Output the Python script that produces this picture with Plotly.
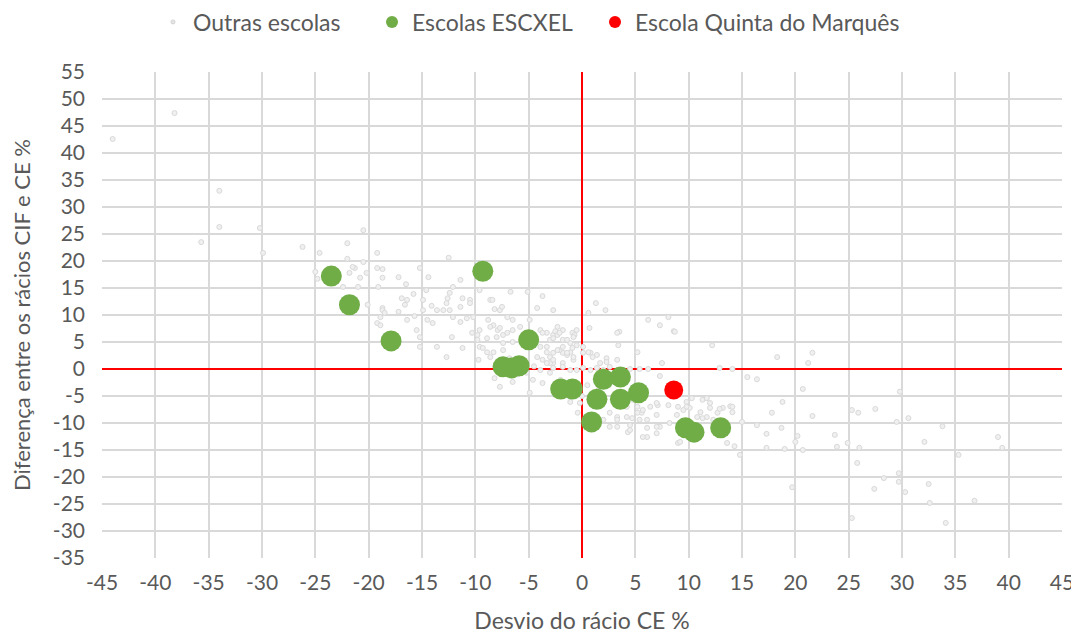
import plotly.graph_objects as go

# ---- data ----
escxel_x = [-23.5, -21.8, -17.9, -9.3, -5.0, -7.4, -6.6, -5.9, -2.0, -0.9,
            2.0, 3.6, 1.4, 3.6, 5.3, 0.9, 9.7, 10.5, 13.0]
escxel_y = [17.2, 11.9, 5.2, 18.1, 5.4, 0.4, 0.2, 0.6, -3.7, -3.7,
            -1.9, -1.5, -5.6, -5.6, -4.4, -9.8, -10.9, -11.7, -10.9]

quinta_x = [8.6]
quinta_y = [-3.9]

outras_pontos = [
    (-38.2, 47.4), (-44.0, 42.6), (-34.0, 33.0), (-34.0, 26.3), (-30.2, 26.1), (-35.7, 23.5),
    (-29.9, 21.5), (-26.2, 22.6), (-20.5, 25.7), (-22.0, 23.3), (-24.6, 21.5), (-19.2, 21.5),
    (-22.0, 20.4), (-20.5, 19.8), (-21.3, 18.7), (-19.2, 18.7), (-18.7, 18.5), (-20.2, 17.8),
    (-20.8, 16.9), (-18.7, 16.9), (-22.4, 15.2), (-21.0, 15.2), (-19.1, 15.2), (-20.1, 11.9),
    (-18.7, 11.3),
    (-25.0, 18.0), (-24.8, 16.7), (-21.5, 18.9), (-21.8, 17.8), (-17.2, 17.0), (-16.5, 15.7),
    (-12.5, 20.6), (-15.2, 18.7), (-14.4, 17.0), (-11.4, 16.5), (-12.1, 15.2), (-14.6, 14.6),
    (-16.9, 13.1), (-16.4, 12.8), (-15.8, 13.9), (-14.9, 12.8), (-12.6, 13.1), (-12.7, 12.2),
    (-11.2, 13.1), (-10.5, 12.8), (-12.4, 14.1), (-18.7, 10.9), (-18.5, 10.4), (-18.9, 9.6),
    (-17.2, 10.6), (-16.6, 11.9), (-19.2, 8.5), (-18.9, 8.1), (-16.4, 9.1), (-15.7, 9.8),
    (-14.9, 10.9), (-14.1, 11.7), (-13.6, 10.9), (-13.0, 10.9), (-12.4, 10.9), (-14.5, 9.1),
    (-14.0, 8.5), (-12.1, 9.6), (-11.4, 8.7), (-10.8, 9.4), (-10.2, 9.6), (-10.5, 12.2),
    (-11.4, 11.5),
    (-12.7, 2.2), (-13.6, 4.1), (-15.2, 5.9), (-15.2, 4.1), (-15.5, 7.2), (-12.2, 5.9),
    (-11.2, 3.9), (-10.3, 6.7), (-9.8, 6.3), (-9.6, 7.2), (-8.8, 9.1), (-8.3, 8.1),
    (-7.9, 7.2), (-7.4, 6.3), (-9.6, 4.1), (-8.9, 3.1), (-9.7, 1.7), (-8.6, 12.8),
    (-6.7, 14.3), (-5.1, 14.3), (-3.7, 13.5), (-4.2, 11.3), (-2.7, 10.9), (-7.7, 10.9),
    (-7.0, 9.6), (-6.5, 9.1), (-5.8, 7.8), (-4.9, 9.1), (-3.9, 7.2), (-3.3, 6.7),
    (-2.7, 6.3), (-2.3, 7.8), (-1.8, 7.2), (-0.9, 6.7), (-0.5, 7.2), (-3.9, 4.1),
    (-3.3, 3.1), (-2.7, 3.0), (-1.8, 3.0), (-1.1, 3.1), (-3.7, 1.7), (-2.7, 1.1),
    (-1.8, 1.1), (-0.8, 1.7), (-7.7, -3.3), (-6.5, -2.4), (-4.9, -4.4), (-0.4, -8.1),
    (-9.6, 14.6), (-8.4, 12.8), (-7.5, 11.5), (-8.2, 11.1), (1.3, 12.2), (2.2, 10.9),
    (6.2, 9.1), (7.3, 8.1), (8.1, 9.6), (0.6, 10.4),
    (8.6, 7.0), (3.5, 6.9), (0.7, 7.6), (-2.5, 7.0), (-2.3, 6.3), (-1.8, 5.4), (-1.1, 4.8),
    (-0.7, 6.3), (0.1, 4.1), (0.8, 3.0), (1.4, 2.6), (2.3, 2.0), (3.3, 1.7), (3.4, 4.4),
    (5.2, 3.1), (7.5, 1.1), (12.2, 4.4), (12.9, 0.2), (14.1, 0.0), (6.2, 0.0), (-3.0, 1.1),
    (-2.7, 0.2), (-1.8, 0.4), (-1.1, -0.2), (-0.5, -0.2), (0.1, 0.2), (0.8, -0.2), (1.4, 0.2),
    (2.0, -0.2), (2.6, 0.4), (4.5, 0.0), (5.4, 0.0), (7.3, -1.3), (15.5, -1.5), (16.4, -1.9),
    (18.3, 2.2), (21.6, 3.0), (21.2, 1.1), (20.7, -3.7), (18.8, -6.1), (21.6, -8.7),
    (17.8, -8.1), (18.7, -10.9), (16.4, -10.4), (17.3, -12.0), (20.2, -12.4), (23.7, -12.2),
    (19.0, -14.8), (20.7, -15.0), (23.9, -14.4), (20.0, -13.5), (17.3, -14.6), (13.9, -6.9),
    (14.1, -8.0), (13.2, -7.2), (11.3, -5.7), (12.0, -7.2), (12.7, -8.1), (11.7, -8.9),
    (12.3, -9.4), (10.8, -8.9), (10.1, -7.2), (9.8, -6.1), (9.0, -7.0), (8.1, -6.7),
    (7.1, -6.7), (7.0, -8.5), (7.3, -10.7), (6.1, -10.9), (6.1, -12.6), (4.3, -11.7),
    (9.0, -13.7), (13.6, -13.7), (14.3, -14.3), (14.8, -15.9), (3.3, -8.9), (4.7, -9.1),
    (5.6, -8.1), (5.2, -7.0), (4.2, -7.0), (4.8, -5.7), (-1.1, -6.1), (-2.5, -4.8),
    (3.3, -10.7), (4.5, -10.4), (5.4, -9.4), (-3.0, 5.4), (-3.0, 2.2), (-2.1, 3.5),
    (-1.4, 2.6), (-0.9, 3.9), (-0.5, 4.4), (0.1, 3.0), (0.6, 3.1), (1.0, 2.2), (1.7, 1.1),
    (2.3, 1.3),
    (-8.6, 7.8), (-7.7, 7.6), (-7.0, 6.7), (-6.5, 7.2), (-9.8, 5.4), (-8.9, 5.7), (-8.0, 5.9),
    (-7.4, 4.8), (-6.5, 5.0), (-9.3, 3.9), (-8.3, 3.1), (-7.4, 3.5), (-3.7, 6.7), (-2.7, 5.7),
    (-2.1, 6.7), (-1.4, 5.4), (-0.8, 5.9), (-3.3, 4.1), (-2.3, 3.5), (-1.4, 3.0), (-0.8, 2.2),
    (-1.8, 4.1), (-4.2, 2.2), (-3.3, 1.1), (-2.7, 1.7), (-3.9, -0.2), (-3.0, -0.7),
    (-4.6, -2.0), (-5.2, -0.7), (-3.7, -2.6), (-8.2, -1.7), (-0.2, -6.3), (3.3, 6.7),
    (2.6, -8.1), (3.3, -9.4), (4.2, -8.9), (5.2, -8.1), (5.7, -7.6), (6.4, -7.0), (7.0, -6.3),
    (6.1, -9.4), (7.0, -10.7), (4.5, -11.3), (5.7, -12.6), (7.0, -11.9), (2.6, -10.7),
    (2.0, -9.4), (-8.6, 2.2), (-6.0, -1.0), (-5.5, 1.5), (-4.5, 0.5), (-6.8, 2.0),
    (-2.0, -2.0), (-1.0, -2.5), (0.5, -3.0), (1.5, -4.0), (2.5, -3.0), (3.0, -5.0),
    (0.0, -5.0),
    (8.7, 6.9), (11.7, -5.4), (12.0, -6.3), (12.9, -7.4), (14.1, -7.0), (10.3, -5.4),
    (9.8, -7.0), (9.5, -7.6), (8.9, -8.5), (8.2, -10.0), (9.2, -13.5), (11.3, -9.1),
    (11.1, -8.0), (15.0, -9.8), (19.7, -21.9),
    (29.8, -4.2), (25.3, -7.6), (25.9, -8.1), (27.5, -7.4), (29.5, -9.8), (30.6, -9.1),
    (33.8, -10.6), (24.9, -13.7), (26.0, -14.6), (32.1, -13.5), (39.0, -12.6), (39.4, -14.6),
    (35.3, -15.9), (25.8, -17.4), (28.3, -20.2), (29.7, -19.3), (29.7, -20.9), (27.4, -22.2),
    (30.3, -22.8), (32.5, -21.3), (32.6, -24.8), (36.8, -24.4), (25.3, -27.6), (34.1, -28.5),
]
outras_x = [p[0] for p in outras_pontos]
outras_y = [p[1] for p in outras_pontos]

x_ticks = list(range(-45, 50, 5))
y_ticks = list(range(-35, 60, 5))

FONT = "Lato, Carlito, Calibri, sans-serif"
TXT = "#595959"
GRID = "#d9d9d9"

# the page adds an 8px body margin; the figure is sized to fill the rest
W, H = 1071, 626

fig = go.Figure()

fig.add_trace(go.Scatter(
    x=outras_x, y=outras_y, mode="markers", name="Outras escolas", showlegend=False,
    marker=dict(size=5, color="#f0f0f0", line=dict(color="#d9d9d9", width=1)),
))
fig.add_trace(go.Scatter(
    x=escxel_x, y=escxel_y, mode="markers", name="Escolas ESCXEL", showlegend=False,
    marker=dict(size=21, color="#70ad47", line=dict(width=0)),
))
fig.add_trace(go.Scatter(
    x=quinta_x, y=quinta_y, mode="markers", name="Escola Quinta do Marquês", showlegend=False,
    marker=dict(size=19, color="#ff0000", line=dict(width=0)),
))

# legend entries, each in its own legend so they can be spaced like the reference
fig.add_trace(go.Scatter(x=[None], y=[None], mode="markers", name="Outras escolas", legend="legend",
                         marker=dict(size=4, color="#e6e6e6", line=dict(color="#d2d2d2", width=1))))
fig.add_trace(go.Scatter(x=[None], y=[None], mode="markers", name="Escolas ESCXEL", legend="legend2",
                         marker=dict(size=12, color="#70ad47")))
fig.add_trace(go.Scatter(x=[None], y=[None], mode="markers", name="Escola Quinta do Marquês",
                         legend="legend3", marker=dict(size=12, color="#ff0000")))

def leg(xpix):
    return dict(orientation="h", xref="container", yref="container",
                x=xpix / W, xanchor="left", y=1 - 14 / H, yanchor="middle",
                font=dict(family=FONT, size=23, color=TXT), bgcolor="rgba(0,0,0,0)",
                itemsizing="trace", itemwidth=30)

fig.update_layout(
    width=W, height=H,
    paper_bgcolor="white", plot_bgcolor="white",
    margin=dict(l=94, r=17, t=64, b=76, autoexpand=False),
    font=dict(family=FONT, size=21, color=TXT),
    showlegend=True,
    legend=leg(145), legend2=leg(364), legend3=leg(587),
    xaxis=dict(range=[-45, 45], tickvals=x_ticks, ticktext=[str(v) for v in x_ticks],
               showgrid=True, gridcolor=GRID, gridwidth=1.5, automargin=False,
               zeroline=True, zerolinecolor="#ff0000", zerolinewidth=2,
               showline=False, ticks="", ticklabelstandoff=10,
               tickfont=dict(family=FONT, size=21, color=TXT),
               title=dict(text="Desvio do rácio CE %", standoff=27,
                          font=dict(family=FONT, size=23, color=TXT))),
    yaxis=dict(range=[-35, 55], tickvals=y_ticks, ticktext=[str(v) for v in y_ticks],
               showgrid=True, gridcolor=GRID, gridwidth=1.5, automargin=False,
               zeroline=True, zerolinecolor="#ff0000", zerolinewidth=2,
               showline=False, ticks="", ticklabelstandoff=16,
               tickfont=dict(family=FONT, size=21, color=TXT),
               title=dict(text="Diferença entre os rácios CIF e CE %", standoff=22,
                          font=dict(family=FONT, size=22, color=TXT))),
)

fig.write_html("out.html")
